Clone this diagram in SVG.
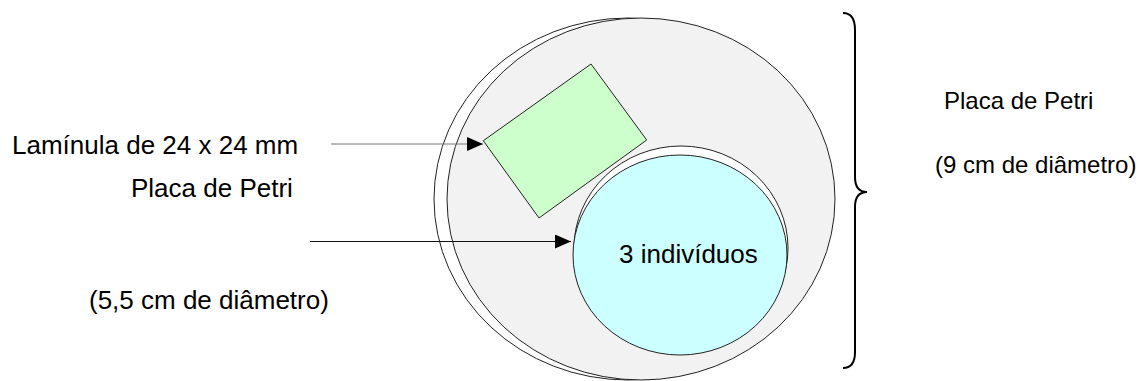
<svg xmlns="http://www.w3.org/2000/svg" width="1140" height="381" viewBox="0 0 1140 381">
  <style>
    .lbl { font-family: "Liberation Sans", Arial, sans-serif; font-size: 26px; fill: #000; }
    .lbl-r { font-family: "Liberation Sans", Arial, sans-serif; font-size: 24px; fill: #000; }
    .dish { stroke: #222; stroke-width: 1; }
    .lead { fill: none; stroke-width: 1; }
  </style>
  <defs>
    <marker id="head" markerWidth="16" markerHeight="14" refX="16" refY="7" orient="auto" markerUnits="userSpaceOnUse">
      <path d="M0,0 L16,7 L0,14 Z" fill="#000"/>
    </marker>
  </defs>
  <rect width="1140" height="381" fill="#fff"/>

  <!-- large dish, 9 cm -->
  <g id="dish-large">
    <ellipse class="dish" cx="628" cy="199" rx="194" ry="181" fill="#fff"/>
    <ellipse class="dish" cx="641" cy="199" rx="194" ry="181" fill="#f2f2f2"/>
  </g>

  <!-- cover slip -->
  <g id="coverslip">
    <polygon points="483.3,140.7 591,64 646.7,140 539,218" fill="#ccffcc" stroke="#222" stroke-width="1"/>
  </g>

  <!-- small dish, 5.5 cm -->
  <g id="dish-small">
    <ellipse class="dish" cx="681" cy="248" rx="107" ry="102" fill="#fff"/>
    <ellipse class="dish" cx="680" cy="255" rx="107" ry="100" fill="#ccffff"/>
    <text class="lbl" x="619" y="263">3 indivíduos</text>
  </g>

  <!-- labels -->
  <g id="label-coverslip">
    <text class="lbl" x="12" y="154">Lamínula de 24 x 24 mm</text>
  </g>
  <g id="label-small-dish">
    <text class="lbl" x="131" y="197">Placa de Petri</text>
    <text class="lbl" x="89" y="309">(5,5 cm de diâmetro)</text>
  </g>
  <g id="label-large-dish">
    <path d="M843,13 Q855,13 855,30 L855,177 Q855,192 867,192 Q855,192 855,207 L855,352 Q855,368 843,368" fill="none" stroke="#000" stroke-width="2"/>
    <text class="lbl-r" x="944" y="109">Placa de Petri</text>
    <text class="lbl-r" x="935" y="173">(9 cm de diâmetro)</text>
  </g>

  <!-- leader arrows -->
  <g id="connectors">
    <line class="lead" x1="331" y1="144" x2="483" y2="144" stroke="#777" marker-end="url(#head)"/>
    <line class="lead" x1="310" y1="241.5" x2="571" y2="241.5" stroke="#111" marker-end="url(#head)"/>
  </g>
</svg>
